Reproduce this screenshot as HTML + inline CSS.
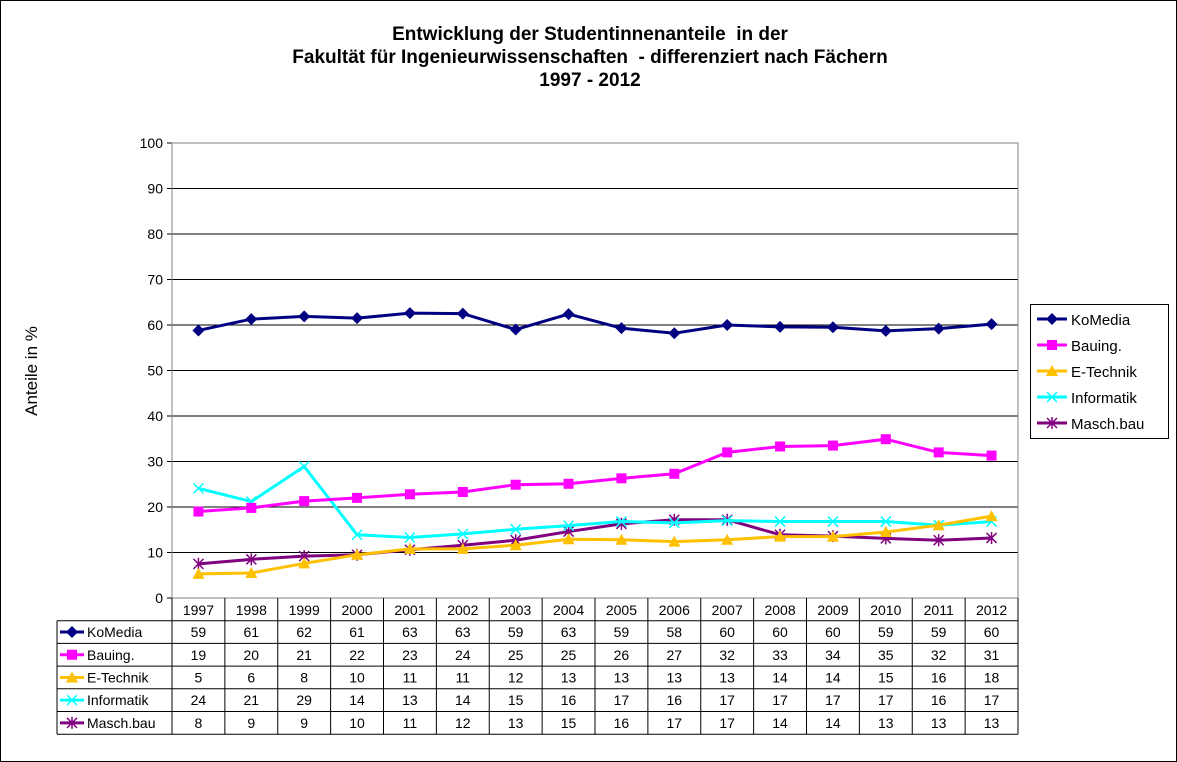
<!DOCTYPE html>
<html><head><meta charset="utf-8"><style>
body{margin:0;background:#fff}
svg{display:block;font-family:"Liberation Sans",Arial,sans-serif}
</style></head><body>
<svg id="c" width="1177" height="762" xmlns="http://www.w3.org/2000/svg"></svg>
<script>
const s=document.getElementById('c');let h='';
h+='<rect x="0.5" y="0.5" width="1176" height="761" fill="#fff" stroke="#000"/>';
h+='<text x="590" y="40" font-size="19" font-weight="bold" text-anchor="middle" style="white-space:pre">Entwicklung der Studentinnenanteile  in der</text>';
h+='<text x="590" y="63" font-size="19" font-weight="bold" text-anchor="middle" style="white-space:pre">Fakultät für Ingenieurwissenschaften  - differenziert nach Fächern</text>';
h+='<text x="590" y="86" font-size="19" font-weight="bold" text-anchor="middle">1997 - 2012</text>';
h+='<text transform="translate(37,371) rotate(-90)" font-size="17" text-anchor="middle">Anteile in %</text>';
const L=172,R=1018,T=143,B=598,cw=(R-L)/16;
const Y=v=>B-(B-T)*v/100, X=i=>L+cw*(i+0.5);
for(let v=0;v<=100;v+=10){const y=Y(v);h+=`<line x1="${L}" x2="${R}" y1="${y}" y2="${y}" stroke="#000"/>`;h+=`<line x1="${L-5}" x2="${L}" y1="${y}" y2="${y}" stroke="#000"/>`;h+=`<text x="${L-9}" y="${y+5}" font-size="14" text-anchor="end">${v}</text>`;}
h+=`<rect x="${L}" y="${T}" width="${R-L}" height="${B-T}" fill="none" stroke="#808080"/>`;
const S=[
['KoMedia','#000080','d',[58.8,61.3,61.9,61.5,62.6,62.5,59.0,62.4,59.3,58.2,60.0,59.6,59.5,58.7,59.2,60.2],[59,61,62,61,63,63,59,63,59,58,60,60,60,59,59,60]],
['Bauing.','#ff00ff','s',[19,19.8,21.3,22,22.8,23.3,24.9,25.1,26.3,27.3,32,33.3,33.5,34.9,32,31.3],[19,20,21,22,23,24,25,25,26,27,32,33,34,35,32,31]],
['E-Technik','#ffc000','t',[5.3,5.5,7.6,9.5,10.8,10.8,11.6,12.9,12.8,12.4,12.8,13.5,13.5,14.5,16,18],[5,6,8,10,11,11,12,13,13,13,13,14,14,15,16,18]],
['Informatik','#00ffff','x',[24.1,21.2,28.9,13.9,13.3,14.1,15.1,15.9,16.8,16.5,17,16.8,16.8,16.8,16,16.8],[24,21,29,14,13,14,15,16,17,16,17,17,17,17,16,17]],
['Masch.bau','#800080','a',[7.5,8.5,9.2,9.5,10.6,11.6,12.7,14.6,16.3,17.2,17.2,13.9,13.6,13.1,12.7,13.2],[8,9,9,10,11,12,13,15,16,17,17,14,14,13,13,13]]];
function mk(t,c,x,y){if(t=='d')return `<polygon points="${x},${y-6} ${x+6},${y} ${x},${y+6} ${x-6},${y}" fill="${c}"/>`;
if(t=='s')return `<rect x="${x-5}" y="${y-5}" width="10" height="10" fill="${c}"/>`;
if(t=='t')return `<polygon points="${x},${y-6} ${x+6},${y+5} ${x-6},${y+5}" fill="${c}"/>`;
if(t=='x')return `<path d="M${x-5} ${y-5}L${x+5} ${y+5}M${x-5} ${y+5}L${x+5} ${y-5}" stroke="${c}" stroke-width="1.5"/>`;
return `<path d="M${x-5} ${y-5}L${x+5} ${y+5}M${x-5} ${y+5}L${x+5} ${y-5}M${x} ${y-6}L${x} ${y+6}" stroke="${c}" stroke-width="1.5"/>`;}
for(const [n,c,t,d] of S.slice().reverse()){h+=`<polyline fill="none" stroke="${c}" stroke-width="3" points="${d.map((v,i)=>X(i)+','+Y(v)).join(' ')}"/>`;d.forEach((v,i)=>h+=mk(t,c,X(i),Y(v)));}
const rh=22.7,TL=57;
for(let r=1;r<=6;r++){const y=B+rh*r;h+=`<line x1="${TL}" x2="${R}" y1="${y}" y2="${y}" stroke="#000"/>`;}
h+=`<line x1="${TL}" x2="${TL}" y1="${B+rh}" y2="${B+rh*6}" stroke="#000"/>`;
for(let i=0;i<=16;i++){const x=L+cw*i;h+=`<line x1="${x}" x2="${x}" y1="${B}" y2="${B+rh*6}" stroke="#000"/>`;}
for(let i=0;i<16;i++)h+=`<text x="${X(i)}" y="${B+17}" font-size="14" text-anchor="middle">${1997+i}</text>`;
S.forEach(([n,c,t,d,r],k)=>{const y=B+rh*(k+1)+rh/2;h+=`<line x1="${TL+3}" x2="${TL+27}" y1="${y}" y2="${y}" stroke="${c}" stroke-width="3"/>`+mk(t,c,TL+15,y);
h+=`<text x="${TL+30}" y="${y+5}" font-size="14">${n}</text>`;r.forEach((v,i)=>h+=`<text x="${X(i)}" y="${y+5}" font-size="14" text-anchor="middle">${v}</text>`);});
h+=`<rect x="1030.5" y="304.5" width="138" height="134" fill="#fff" stroke="#000"/>`;
S.forEach(([n,c,t],k)=>{const y=319+k*26;h+=`<line x1="1037" x2="1067" y1="${y}" y2="${y}" stroke="${c}" stroke-width="3"/>`+mk(t,c,1052,y);h+=`<text x="1071" y="${y+6}" font-size="15">${n}</text>`;});
s.innerHTML=h;
</script>
</body></html>
